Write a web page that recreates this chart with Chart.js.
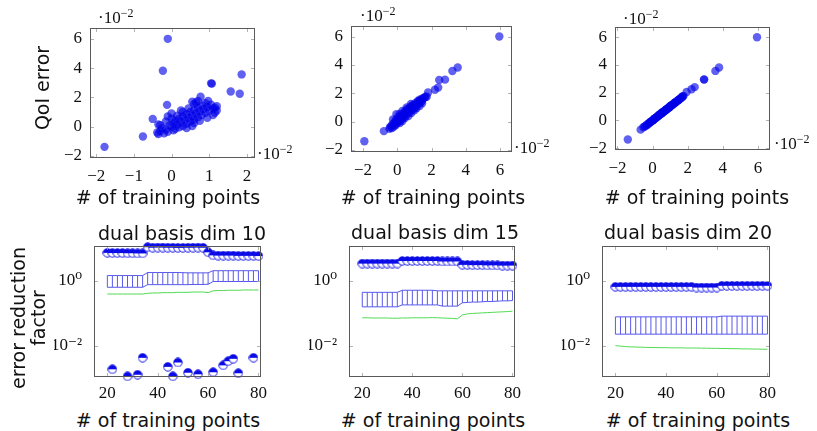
<!DOCTYPE html>
<html lang="en">
<head>
<meta charset="UTF-8">
<title>QoI error / error reduction factor</title>
<script src="https://cdn.jsdelivr.net/npm/chart.js"></script>
<style>
  body { margin: 0; width: 817px; height: 431px; background: #fff; position: relative; overflow: hidden; }
  canvas { position: absolute; }
  .lbl { position: absolute; font-family: "DejaVu Sans", sans-serif; font-size: 19px; color: #111; white-space: nowrap; transform: translate(-50%, -50%); }
  .rot { transform: translate(-50%, -50%) rotate(-90deg); text-align: center; line-height: 20px; }
  .mul { position: absolute; font-family: "Liberation Serif", serif; font-size: 17px; color: #111; white-space: nowrap; transform: translateY(-50%); z-index: 2; }
  .mul sup { font-size: 12px; vertical-align: 6px; }
</style>
</head>
<body>

<canvas id="c1" width="215" height="168" style="left:50px;top:20px"></canvas>
<canvas id="c2" width="211" height="164" style="left:311px;top:18px"></canvas>
<canvas id="c3" width="205" height="161" style="left:575px;top:19px"></canvas>
<canvas id="c4" width="217" height="169" style="left:54px;top:238px"></canvas>
<canvas id="c5" width="216" height="169" style="left:309px;top:238px"></canvas>
<canvas id="c6" width="218" height="169" style="left:562px;top:238px"></canvas>

<div class="lbl rot" style="left:42px;top:88px">QoI error</div>
<div class="lbl" style="left:168px;top:197px"># of training points</div>
<div class="lbl" style="left:433px;top:197px"># of training points</div>
<div class="lbl" style="left:697px;top:197px"># of training points</div>

<div class="lbl rot" style="left:28px;top:318px">error reduction<br>factor</div>
<div class="lbl" style="left:182px;top:233px">dual basis dim 10</div>
<div class="lbl" style="left:435px;top:232px">dual basis dim 15</div>
<div class="lbl" style="left:688px;top:232px">dual basis dim 20</div>
<div class="lbl" style="left:168px;top:420px"># of training points</div>
<div class="lbl" style="left:433px;top:420px"># of training points</div>
<div class="lbl" style="left:698px;top:420px"># of training points</div>

<div class="mul" style="left:98px;top:17px">·10<sup>−2</sup></div>
<div class="mul" style="left:257px;top:153px">·10<sup>−2</sup></div>
<div class="mul" style="left:360px;top:15px">·10<sup>−2</sup></div>
<div class="mul" style="left:514px;top:147px">·10<sup>−2</sup></div>
<div class="mul" style="left:623px;top:18px">·10<sup>−2</sup></div>
<div class="mul" style="left:774px;top:143px">·10<sup>−2</sup></div>

<script>
  // ---- top row: QoI error vs. estimate (values in units of 1e-2)
  var qoiError = [6.00, 3.82, 3.57, 2.96, 2.94, 2.40, 2.25, -1.38, -0.67, 2.05, 1.49, 0.53, 1.75,
    -0.50, -0.45, -0.40, -0.35, -0.30, -0.25, -0.20, -0.15, -0.10, -0.05, 0.00, 0.05, 0.10, 0.15, 0.20, 0.25,
    0.30, 0.35, 0.40, 0.45, 0.50, 0.55, 0.60, 0.65, 0.70, 0.75, 0.80, 0.85, 0.90, 0.95, 1.00, 1.05, 1.10,
    1.15, 1.20, 1.25, 1.30, 1.35, 1.40, 1.45, 1.50, 1.55, 1.60, 1.65, 1.70, 1.75,
    0.15, 0.25, 0.40, 0.60, 0.80, 0.95, 1.10, 1.30, -0.10, 0.05, 0.10, 0.35, 0.55, 0.75, 1.00, 1.25, 0.90, 0.70, 1.10];
  var est10 = [-0.10, -0.23, 1.86, 1.05, 1.07, 1.57, 1.81, -1.78, -0.76, 0.77, -0.12, -0.50, 0.97,
    -0.35, -0.20, -0.38, -0.10, -0.30, 0.05, -0.15, 0.10, -0.25, 0.20, 0.00, 0.30, -0.05, 0.15, 0.40, 0.05,
    0.25, 0.50, 0.10, 0.35, 0.60, 0.20, 0.45, 0.70, 0.30, 0.55, 0.80, 0.40, 0.65, 0.90, 0.50, 0.75, 1.00,
    0.60, 0.85, 1.10, 0.70, 0.95, 1.20, 0.80, 1.05, 0.60, 0.90, 0.65, 0.55, 0.70,
    -0.35, 0.60, 0.75, 0.95, 1.10, 1.15, 1.20, 1.15, 0.40, 0.55, -0.30, -0.15, 0.00, 0.15, 0.30, 0.45, 0.00, -0.10, 0.25];
  var est15 = [5.96, 3.53, 3.22, 2.79, 2.45, 2.39, 2.20, -1.92, -0.78, 1.80, 1.45, -0.05, 1.65,
    -0.45, -0.30, -0.42, -0.20, -0.35, -0.10, -0.28, -0.05, -0.18, 0.05, -0.10, 0.15, 0.00, 0.10, 0.30, 0.12,
    0.20, 0.42, 0.20, 0.38, 0.55, 0.30, 0.50, 0.70, 0.45, 0.62, 0.85, 0.60, 0.78, 1.00, 0.75, 0.92, 1.10,
    0.90, 1.05, 1.25, 1.05, 1.20, 1.40, 1.20, 1.35, 1.30, 1.45, 1.50, 1.60, 1.72,
    -0.25, 0.45, 0.65, 0.82, 1.00, 1.12, 1.30, 1.45, 0.15, 0.30, -0.10, 0.05, 0.15, 0.30, 0.55, 0.80, 0.60, 0.45, 0.85];
  var est20 = [5.95, 3.79, 3.58, 2.94, 2.93, 2.40, 2.22, -1.41, -0.68, 1.94, 1.50, 0.50, 1.72,
    -0.52, -0.46, -0.40, -0.33, -0.31, -0.22, -0.21, -0.14, -0.12, -0.03, 0.02, 0.06, 0.08, 0.16, 0.22, 0.24,
    0.30, 0.36, 0.38, 0.46, 0.52, 0.54, 0.58, 0.66, 0.70, 0.76, 0.80, 0.84, 0.92, 0.96, 0.98, 1.06, 1.10,
    1.14, 1.22, 1.26, 1.30, 1.34, 1.42, 1.46, 1.50, 1.56, 1.60, 1.66, 1.70, 1.76,
    0.14, 0.26, 0.40, 0.62, 0.82, 0.96, 1.12, 1.30, -0.10, 0.05, 0.10, 0.34, 0.56, 0.74, 1.00, 1.24, 0.90, 0.70, 1.08];

  var topXTicks1 = [-2, -1, 0, 1, 2];
  var topXTicks = [-2, 0, 2, 4, 6];
  var topYTicks = [-2, 0, 2, 4, 6];

  // ---- bottom row: error reduction factor vs. # of training points
  var trainingPts = [20, 22, 24, 26, 28, 30, 32, 34, 36, 38, 40, 42, 44, 46, 48, 50,
    52, 54, 56, 58, 60, 62, 64, 66, 68, 70, 72, 74, 76, 78, 80];

  var maxRed10 = [7.3, 7.2, 7.2, 7.2, 7.1, 7.1, 7.0, 7.0, 10.9, 10.5, 10.6, 10.6, 10.5, 10.5, 10.4, 10.4,
    10.5, 10.5, 10.6, 10.5, 7.6, 6.1, 6.0, 6.0, 6.0, 6.0, 5.9, 5.9, 5.9, 5.9, 5.8];
  var minRed10 = [null, 0.00185, null, null, 0.00112, null, 0.00126, 0.0042, null, null, null, null, 0.0022, 0.00112, 0.0030, null,
    0.00145, null, 0.0013, null, null, 0.0015, null, 0.00245, 0.0033, 0.0039, 0.0014, null, null, 0.0042, null];
  var upper10 = [1.45, 1.45, 1.45, 1.45, 1.45, 1.45, 1.45, 1.45, 1.8, 1.8, 1.8, 1.8, 1.8, 1.8, 1.8, 1.78,
    1.76, 1.76, 1.76, 1.76, 1.76, 2.05, 2.05, 2.05, 2.05, 2.05, 2.05, 2.05, 2.05, 2.05, 2.05];
  var lower10 = [0.63, 0.63, 0.63, 0.63, 0.63, 0.63, 0.63, 0.63, 0.76, 0.76, 0.76, 0.76, 0.76, 0.76, 0.76, 0.76,
    0.76, 0.77, 0.77, 0.77, 0.78, 0.95, 0.95, 0.95, 0.95, 0.95, 0.95, 0.95, 0.95, 0.95, 0.95];
  var mean10 = [0.39, 0.39, 0.39, 0.39, 0.39, 0.39, 0.39, 0.39, 0.41, 0.42, 0.42, 0.43, 0.43, 0.43, 0.44, 0.44,
    0.44, 0.45, 0.45, 0.45, 0.43, 0.49, 0.50, 0.50, 0.51, 0.51, 0.51, 0.52, 0.52, 0.52, 0.52];

  var maxRed15 = [3.4, 3.4, 3.4, 3.4, 3.4, 3.4, 3.4, 3.4, 4.1, 4.1, 4.1, 4.1, 4.1, 4.1, 4.1, 4.1,
    3.95, 3.95, 3.95, 3.95, 3.1, 3.1, 3.05, 3.05, 3.05, 3.0, 3.0, 3.0, 2.95, 2.95, 2.95];
  var upper15 = [0.44, 0.44, 0.44, 0.44, 0.44, 0.44, 0.44, 0.44, 0.51, 0.51, 0.51, 0.51, 0.51, 0.51, 0.51, 0.49,
    0.49, 0.49, 0.49, 0.49, 0.49, 0.49, 0.49, 0.49, 0.49, 0.49, 0.49, 0.49, 0.49, 0.49, 0.49];
  var lower15 = [0.157, 0.157, 0.157, 0.157, 0.157, 0.157, 0.157, 0.157, 0.18, 0.18, 0.18, 0.18, 0.18, 0.18, 0.18, 0.18,
    0.165, 0.165, 0.165, 0.165, 0.21, 0.215, 0.22, 0.22, 0.225, 0.23, 0.23, 0.235, 0.24, 0.24, 0.245];
  var mean15 = [0.072, 0.072, 0.071, 0.071, 0.071, 0.071, 0.070, 0.070, 0.071, 0.071, 0.072, 0.072, 0.072, 0.072, 0.073, 0.072,
    0.071, 0.070, 0.069, 0.067, 0.088, 0.095, 0.098, 0.100, 0.102, 0.104, 0.106, 0.108, 0.110, 0.112, 0.115];

  var maxRed20 = [0.65, 0.65, 0.65, 0.65, 0.65, 0.65, 0.65, 0.65, 0.65, 0.65, 0.65, 0.65, 0.65, 0.65, 0.65, 0.65,
    0.62, 0.62, 0.62, 0.62, 0.62, 0.70, 0.70, 0.70, 0.70, 0.70, 0.70, 0.70, 0.70, 0.70, 0.70];
  var upper20 = [0.077, 0.077, 0.077, 0.077, 0.077, 0.077, 0.077, 0.077, 0.077, 0.077, 0.077, 0.077, 0.077, 0.077, 0.077, 0.077,
    0.077, 0.077, 0.077, 0.077, 0.077, 0.081, 0.081, 0.081, 0.081, 0.081, 0.081, 0.081, 0.081, 0.081, 0.081];
  var lower20 = [0.0225, 0.0225, 0.0225, 0.0225, 0.0225, 0.0225, 0.0225, 0.0225, 0.0225, 0.0225, 0.0225, 0.0225, 0.0225, 0.0225, 0.0225, 0.0225,
    0.0225, 0.0225, 0.0225, 0.0225, 0.0225, 0.0225, 0.0225, 0.0225, 0.0225, 0.0225, 0.0225, 0.0225, 0.0225, 0.0225, 0.0225];
  var mean20 = [0.0100, 0.0096, 0.0093, 0.0091, 0.0090, 0.0089, 0.0088, 0.0087, 0.0087, 0.0086, 0.0086, 0.0085, 0.0085, 0.0085, 0.0084, 0.0084,
    0.0084, 0.0083, 0.0083, 0.0082, 0.0082, 0.0081, 0.0081, 0.0080, 0.0080, 0.0079, 0.0079, 0.0078, 0.0078, 0.0077, 0.0077];

  var botXTicks = [20, 40, 60, 80];
  var botYTicks = [0.01, 1];

  var serif = { family: 'Liberation Serif, DejaVu Serif, serif', size: 17 };

  // half filled circle marker
  var half = document.createElement('canvas');
  half.width = 10; half.height = 10;
  (function() {
    var g = half.getContext('2d');
    g.beginPath(); g.arc(5, 5, 4.2, 0, Math.PI * 2); g.fillStyle = '#fff'; g.fill();
    g.beginPath(); g.arc(5, 5, 4.2, Math.PI, 0); g.closePath(); g.fillStyle = 'rgb(10,10,230)'; g.fill();
    g.beginPath(); g.arc(5, 5, 4.2, 0, Math.PI * 2); g.strokeStyle = 'rgb(10,10,230)'; g.lineWidth = 0.9; g.stroke();
  })();

  // frame + inward ticks on all four sides
  var framePlugin = {
    id: 'framePlugin',
    afterDraw: function(chart) {
      var a = chart.chartArea, ctx = chart.ctx;
      var sx = chart.scales.x, sy = chart.scales.y;
      ctx.save();
      ctx.strokeStyle = '#a0a0a0';
      ctx.lineWidth = 0.8;
      ctx.beginPath();
      sx.ticks.forEach(function(t) {
        var p = Math.round(sx.getPixelForValue(t.value)) + 0.5;
        ctx.moveTo(p, a.bottom); ctx.lineTo(p, a.bottom - 4);
        ctx.moveTo(p, a.top); ctx.lineTo(p, a.top + 4);
      });
      sy.ticks.forEach(function(t) {
        var p = Math.round(sy.getPixelForValue(t.value)) + 0.5;
        ctx.moveTo(a.left, p); ctx.lineTo(a.left + 4, p);
        ctx.moveTo(a.right, p); ctx.lineTo(a.right - 4, p);
      });
      ctx.stroke();
      ctx.strokeStyle = '#5a5a5a';
      ctx.lineWidth = 1;
      ctx.strokeRect(a.left + 0.5, a.top + 0.5, a.right - a.left - 1, a.bottom - a.top - 1);
      ctx.restore();
    }
  };

  function numLabel(v) {
    return v < 0 ? '\u2212' + Math.abs(v) : String(v);
  }

  function axis(type, min, max, ticks, isX, fmt, pad) {
    return {
      type: type, min: min, max: max,
      afterBuildTicks: function(s) { s.ticks = ticks.map(function(v) { return { value: v }; }); },
      afterFit: function(s) {
        if (isX) { s.height = 30; } else { s.width = 40; }
        // keep the plot frame where it is set by the canvas size
        s.paddingTop = 0; s.paddingBottom = 0; s.paddingLeft = 0; s.paddingRight = 0;
      },
      grid: { display: false, drawTicks: false },
      border: { display: false },
      ticks: { autoSkip: false, maxRotation: 0, padding: pad, color: '#111', font: serif, callback: fmt }
    };
  }

  function makeChart(id, datasets, xScale, yScale) {
    return new Chart(document.getElementById(id), {
      type: 'scatter',
      data: { datasets: datasets },
      options: {
        responsive: false,
        animation: false,
        layout: { autoPadding: false, padding: { top: 8, right: 10, left: 0, bottom: 0 } },
        plugins: { legend: { display: false }, tooltip: { enabled: false } },
        scales: { x: xScale, y: yScale }
      },
      plugins: [framePlugin]
    });
  }

  function pts(xs, ys) {
    var out = [];
    for (var i = 0; i < xs.length; i++) out.push({ x: xs[i], y: ys[i] });
    return out;
  }

  function scatterSet(xs) {
    return {
      data: pts(xs, qoiError),
      pointRadius: 4.2,
      pointBackgroundColor: 'rgba(0,0,232,0.62)',
      pointBorderWidth: 0
    };
  }

  function topChart(id, xs, xmin, xmax, xt) {
    makeChart(id, [scatterSet(xs)],
      axis('linear', xmin, xmax, xt, true, numLabel, 8),
      axis('linear', -2.14, 6.74, topYTicks, false, numLabel, 8));
  }

  topChart('c1', est10, -2.165, 2.215, topXTicks1);
  topChart('c2', est15, -2.7, 6.7, topXTicks);
  topChart('c3', est20, -2.14, 6.69, topXTicks);

  function lineSet(ys, color) {
    return { data: pts(trainingPts, ys), showLine: true, pointRadius: 0, borderColor: color, borderWidth: 0.9 };
  }

  function combs(lo, hi) {
    var out = [];
    for (var i = 0; i < trainingPts.length; i++) {
      out.push({ x: trainingPts[i], y: lo[i] });
      out.push({ x: trainingPts[i], y: hi[i] });
      out.push({ x: trainingPts[i], y: null });
    }
    return { data: out, showLine: true, spanGaps: false, pointRadius: 0, borderColor: 'rgb(70,70,235)', borderWidth: 0.9 };
  }

  function markerSet(ys) {
    return { data: pts(trainingPts, ys), pointStyle: half, pointRadius: 4.3, clip: false };
  }

  function logLabel(v) {
    return v === 1 ? '10\u2070' : '10\u207B\u00B2';
  }

  function bottomChart(id, sets) {
    makeChart(id, sets,
      axis('linear', 14.7, 81, botXTicks, true, String, 6),
      axis('logarithmic', 0.00107, 11.86, botYTicks, false, logLabel, 12));
  }

  bottomChart('c4', [
    lineSet(mean10, 'rgb(60,215,60)'),
    combs(lower10, upper10), lineSet(upper10, 'rgb(70,70,235)'), lineSet(lower10, 'rgb(70,70,235)'),
    markerSet(maxRed10), markerSet(minRed10)
  ]);
  bottomChart('c5', [
    lineSet(mean15, 'rgb(60,215,60)'),
    combs(lower15, upper15), lineSet(upper15, 'rgb(70,70,235)'), lineSet(lower15, 'rgb(70,70,235)'),
    markerSet(maxRed15)
  ]);
  bottomChart('c6', [
    lineSet(mean20, 'rgb(60,215,60)'),
    combs(lower20, upper20), lineSet(upper20, 'rgb(70,70,235)'), lineSet(lower20, 'rgb(70,70,235)'),
    markerSet(maxRed20)
  ]);
</script>
</body>
</html>
